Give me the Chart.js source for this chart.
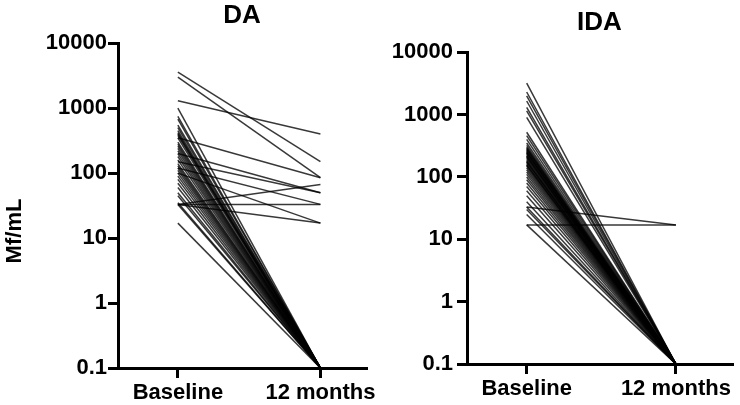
<!DOCTYPE html>
<html>
<head>
<meta charset="utf-8">
<script src="https://cdn.jsdelivr.net/npm/chart.js@4.4.1/dist/chart.umd.min.js"></script>
<style>
  body { margin: 0; background: #fff; }
  #wrap { position: relative; width: 740px; height: 405px; overflow: hidden; }
  canvas { position: absolute; top: 0; }
</style>
</head>
<body>
<div id="wrap">
  <canvas id="daChart" width="380" height="405" style="left:0"></canvas>
  <canvas id="idaChart" width="370" height="405" style="left:370px"></canvas>
</div>
<script>
// Data (0.1 = undetectable at 12 months)
const categories = ['Baseline', '12 months'];
const yTickValues = [0.1, 1, 10, 100, 1000, 10000];

const daBaseline = [3600, 3000, 1300, 350, 150, 200, 120, 100, 33, 33, 33,
    1000, 750, 680, 550, 500, 450, 420, 400, 380, 350, 300, 280, 260, 240, 220, 200,
    180, 160, 140, 130, 120, 110, 100, 90, 80, 70, 60, 50, 45, 35, 33, 17];
const da12Months = [150, 85, 400, 85, 50, 50, 33, 17, 67, 33, 17,
    0.1, 0.1, 0.1, 0.1, 0.1, 0.1, 0.1, 0.1, 0.1, 0.1, 0.1, 0.1, 0.1, 0.1, 0.1, 0.1,
    0.1, 0.1, 0.1, 0.1, 0.1, 0.1, 0.1, 0.1, 0.1, 0.1, 0.1, 0.1, 0.1, 0.1, 0.1, 0.1];

const idaBaseline = [33, 17,
    3200, 2300, 2000, 1650, 1300, 1150, 900, 520, 460, 400,
    350, 320, 300, 290, 280, 270, 260, 250, 245, 240, 230, 220, 215, 210, 200,
    190, 180, 175, 170, 160, 155, 150, 140, 130, 120, 110, 100, 90, 80, 70,
    60, 50, 40, 33, 30, 25, 17];
const ida12Months = [17, 17,
    0.1, 0.1, 0.1, 0.1, 0.1, 0.1, 0.1, 0.1, 0.1, 0.1,
    0.1, 0.1, 0.1, 0.1, 0.1, 0.1, 0.1, 0.1, 0.1, 0.1, 0.1, 0.1, 0.1, 0.1, 0.1,
    0.1, 0.1, 0.1, 0.1, 0.1, 0.1, 0.1, 0.1, 0.1, 0.1, 0.1, 0.1, 0.1, 0.1, 0.1,
    0.1, 0.1, 0.1, 0.1, 0.1, 0.1, 0.1];

const FONT = '"Liberation Sans", Arial, sans-serif';

// one dataset per subject: baseline -> 12 months
function buildDatasets(baseline, after) {
    return baseline.map((b, i) => ({
        data: [{ x: 0, y: b }, { x: 1, y: after[i] }],
        borderColor: 'rgba(0, 0, 0, 0.78)',
        borderWidth: 1.5,
        pointRadius: 0,
        tension: 0
    }));
}

// y axis title drawn a bit below the middle, like the original
const yTitlePlugin = {
    id: 'yTitle',
    afterDraw(chart, args, opts) {
        if (!opts.text) return;
        const ctx = chart.ctx;
        ctx.save();
        ctx.translate(opts.x, opts.y);
        ctx.rotate(-Math.PI / 2);
        ctx.font = 'bold 22px ' + FONT;
        ctx.fillStyle = '#000';
        ctx.textAlign = 'center';
        ctx.textBaseline = 'middle';
        ctx.fillText(opts.text, 0, 0);
        ctx.restore();
    }
};

function makePanel(id, title, baseline, after, cfg) {
    const ctx = document.getElementById(id).getContext('2d');
    new Chart(ctx, {
        type: 'line',
        data: { datasets: buildDatasets(baseline, after) },
        plugins: [yTitlePlugin],
        options: {
            responsive: false,
            animation: false,
            layout: { padding: { left: 0, right: cfg.padRight, top: 0, bottom: 0 } },
            plugins: {
                legend: { display: false },
                tooltip: { enabled: false },
                title: {
                    display: true,
                    text: title,
                    fullSize: false,
                    color: '#000',
                    font: { family: FONT, size: 26, weight: 'bold' },
                    padding: { top: cfg.titleTop, bottom: cfg.titleBottom }
                },
                yTitle: { text: cfg.yTitle, x: 15, y: 231 }
            },
            scales: {
                x: {
                    type: 'linear',
                    min: cfg.xMin,
                    max: cfg.xMax,
                    afterBuildTicks: axis => { axis.ticks = [{ value: 0 }, { value: 1 }]; },
                    afterFit: axis => { axis.height = cfg.xHeight; },
                    ticks: {
                        autoSkip: false,
                        maxRotation: 0,
                        padding: 2,
                        color: '#000',
                        font: { family: FONT, size: 22, weight: 'bold' },
                        callback: v => categories[v]
                    },
                    grid: { display: true, drawOnChartArea: false, drawTicks: true, tickLength: 10, color: '#000', lineWidth: 3 },
                    border: { display: true, color: '#000', width: 3 }
                },
                y: {
                    type: 'logarithmic',
                    min: 0.1,
                    max: 10000,
                    afterBuildTicks: axis => { axis.ticks = yTickValues.map(v => ({ value: v })); },
                    afterFit: axis => { axis.width = cfg.yWidth; },
                    ticks: {
                        padding: cfg.yPad,
                        color: '#000',
                        font: { family: FONT, size: 22, weight: 'bold' },
                        callback: v => String(v)
                    },
                    grid: { display: true, drawOnChartArea: false, drawTicks: true, tickLength: 10, color: '#000', lineWidth: 3 },
                    border: { display: true, color: '#000', width: 3 }
                }
            }
        }
    });
}

makePanel('daChart', 'DA', daBaseline, da12Months, {
    padRight: 13, titleTop: 0, titleBottom: 12, xHeight: 37, yWidth: 118, yPad: 1,
    xMin: -0.42, xMax: 1.32, yTitle: 'Mf/mL'
});
makePanel('idaChart', 'IDA', idaBaseline, ida12Months, {
    padRight: 8, titleTop: 7, titleBottom: 14, xHeight: 41, yWidth: 97, yPad: 4,
    xMin: -0.40, xMax: 1.376, yTitle: ''
});
</script>
</body>
</html>
